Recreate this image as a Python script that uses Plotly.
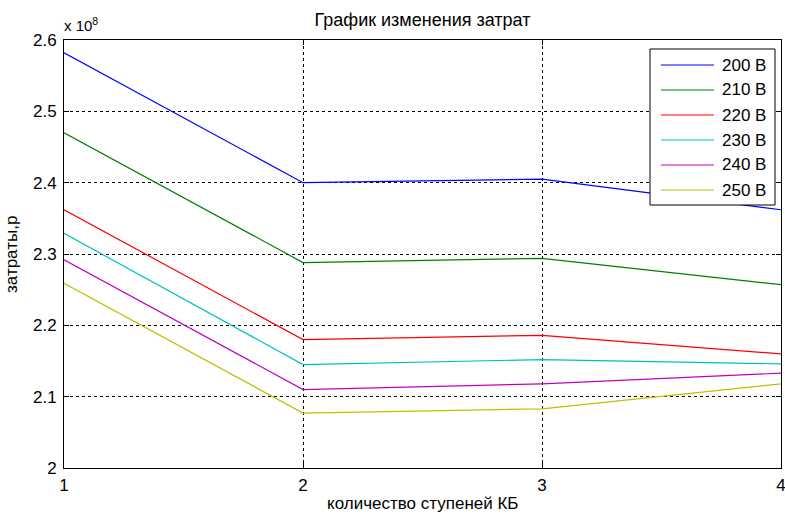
import plotly.graph_objects as go

steps = [1, 2, 3, 4]
series_names = ["200 В", "210 В", "220 В", "230 В", "240 В", "250 В"]
v200 = [2.582, 2.400, 2.405, 2.362]
v210 = [2.470, 2.288, 2.294, 2.257]
v220 = [2.362, 2.180, 2.186, 2.160]
v230 = [2.329, 2.145, 2.152, 2.146]
v240 = [2.292, 2.110, 2.118, 2.133]
v250 = [2.259, 2.077, 2.083, 2.118]
y_ticks = [2.0, 2.1, 2.2, 2.3, 2.4, 2.5, 2.6]
y_tick_labels = ["2", "2.1", "2.2", "2.3", "2.4", "2.5", "2.6"]
x_ticks = [1, 2, 3, 4]

colors = ["#0000ff", "#008000", "#ff0000", "#00bfbf", "#bf00bf", "#bfbf00"]
values = [v200, v210, v220, v230, v240, v250]

FONT = "Liberation Sans, Arial, sans-serif"
W, H = 785, 515
L, R, T, B = 64, 4, 40, 47
PW, PH = W - L - R, H - T - B


def px(xp):
    return (xp - L) / PW


def py(yp):
    return (H - B - yp) / PH


fig = go.Figure()
for name, vals, c in zip(series_names, values, colors):
    fig.add_trace(go.Scatter(x=steps, y=vals, mode="lines", name=name,
                             line=dict(color=c, width=1.2), showlegend=False))

axis_common = dict(
    showline=True, linecolor="black", linewidth=1, mirror="ticks",
    ticks="inside", ticklen=5, tickcolor="black",
    showgrid=True, gridcolor="black", gridwidth=1, griddash="3px,3px",
    zeroline=False, tickfont=dict(family=FONT, size=17, color="black"),
    automargin=False, ticklabeloverflow="allow",
)

fig.update_layout(
    width=W, height=H,
    margin=dict(l=L, r=R, t=T, b=B, autoexpand=False),
    paper_bgcolor="white", plot_bgcolor="white",
    font=dict(family=FONT, color="black"),
    title=dict(text="График изменения затрат", x=(L + PW / 2) / W, xanchor="center",
               y=1 - 20 / H, yanchor="middle",
               font=dict(family=FONT, size=18, color="black")),
    xaxis=dict(range=[1, 4], tickvals=x_ticks, ticktext=[str(t) for t in x_ticks],
               ticklabelstandoff=2,
               **axis_common),
    yaxis=dict(range=[2.0, 2.6], tickvals=y_ticks, ticktext=y_tick_labels,
               ticklabelstandoff=3,
               **axis_common),
    showlegend=False,
)

# axis titles
fig.add_annotation(text="количество ступеней КБ", xref="paper", yref="paper",
                   x=0.5, y=py(504), xanchor="center", yanchor="middle",
                   showarrow=False, font=dict(family=FONT, size=17, color="black"))
fig.add_annotation(text="затраты,р", xref="paper", yref="paper",
                   x=px(12), y=py(255), xanchor="center", yanchor="middle", textangle=-90,
                   showarrow=False, font=dict(family=FONT, size=17, color="black"))

# exponent label
fig.add_annotation(text="x 10<sup>8</sup>", xref="paper", yref="paper",
                   x=px(62), y=py(36), xanchor="left", yanchor="bottom",
                   showarrow=False, font=dict(family=FONT, size=15, color="black"))

# legend box
box_l, box_r, box_t, box_b = 650, 775, 49, 205
fig.add_shape(type="rect", xref="paper", yref="paper",
              x0=px(box_l), x1=px(box_r), y0=py(box_b), y1=py(box_t),
              line=dict(color="black", width=1), fillcolor="white", layer="above")
for i, (name, c) in enumerate(zip(series_names, colors)):
    yy = 65 + 25 * i
    fig.add_shape(type="line", xref="paper", yref="paper",
                  x0=px(661), x1=px(714), y0=py(yy), y1=py(yy),
                  line=dict(color=c, width=1.2), layer="above")
    fig.add_annotation(text=name, xref="paper", yref="paper",
                       x=px(720), y=py(yy), xanchor="left", yanchor="middle",
                       showarrow=False, font=dict(family=FONT, size=17, color="black"))

fig.write_html("out.html", config={"displayModeBar": False},
               post_script="document.body.style.margin='0';document.body.style.overflow='hidden';")
